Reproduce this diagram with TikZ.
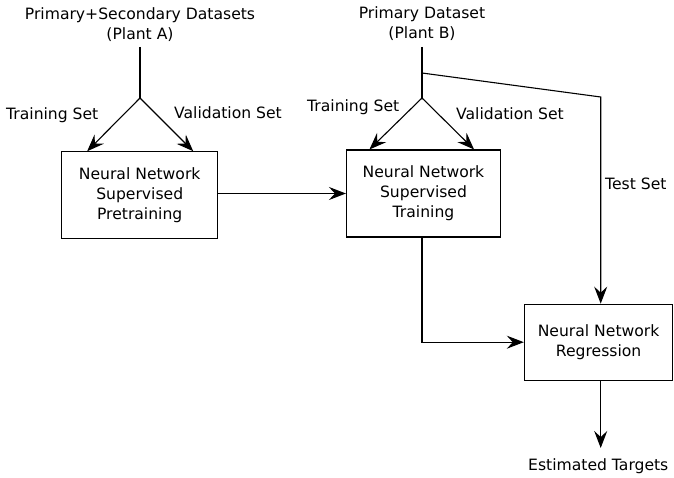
\documentclass[tikz,border=0pt]{standalone}
\usepackage{fontspec}
\setmainfont{DejaVu Sans}
\usetikzlibrary{arrows.meta}
\begin{document}
\begin{tikzpicture}[x=1pt,y=-1pt,
  txt/.style={font=\fontsize{15.6}{20}\selectfont},
  box/.style={txt,draw,line width=1.1pt,align=center,inner sep=0pt},
  lbl/.style={txt,align=center,inner sep=0pt},
  arr/.style={line width=1.1pt,-{Stealth[length=17pt,width=13pt,inset=6pt]}},
  ln/.style={line width=1.1pt}]
\useasboundingbox (0,0) rectangle (674,478);
\node[lbl] (srcA) at (140,24.5) {Primary+Secondary Datasets\\(Plant A)};
\node[lbl] (srcB) at (422,23.5) {Primary Dataset\\(Plant B)};
\node[box,minimum width=156pt,minimum height=87pt] (pre) at (139.7,195.3) {Neural Network\\Supervised\\Pretraining};
\node[box,minimum width=154pt,minimum height=87pt] (train) at (423.5,193.5) {Neural Network\\Supervised\\Training};
\node[box,minimum width=148.5pt,minimum height=76pt] (reg) at (598.6,342.2) {Neural Network\\Regression};
\node[lbl,anchor=base west] (est) at (528,470) {Estimated Targets};
\node[lbl,anchor=base west] (trA) at (6,119.5) {Training Set};
\node[lbl,anchor=base west] (vaA) at (174,118.5) {Validation Set};
\node[lbl,anchor=base west] (trB) at (307,112) {Training Set};
\node[lbl,anchor=base west] (vaB) at (456,120) {Validation Set};
\node[lbl,anchor=base west] (te) at (605,190) {Test Set};
\coordinate (tA) at (140,47);
\coordinate (sA) at (140,98);
\coordinate (tB) at (422,47);
\coordinate (sB) at (422,98);
\coordinate (bB) at (422,73);
\coordinate (kB) at (600.7,97);
\coordinate (eT) at (600.7,448);
\draw[ln] (tA) -- (sA);
\draw[arr] (sA) -- ([xshift=26pt]pre.north west);
\draw[arr] (sA) -- ([xshift=-25pt]pre.north east);
\draw[ln] (tB) -- (sB);
\draw[arr] (sB) -- ([xshift=23.5pt]train.north west);
\draw[arr] (sB) -- ([xshift=-27pt]train.north east);
\draw[arr] (bB) -- (kB) -- (reg.north -| kB);
\draw[arr] (pre.east |- train.west) -- (train.west);
\draw[arr] (train.south -| sB) |- (reg.west);
\draw[arr] (reg.south -| kB) -- (eT);
\end{tikzpicture}
\end{document}
